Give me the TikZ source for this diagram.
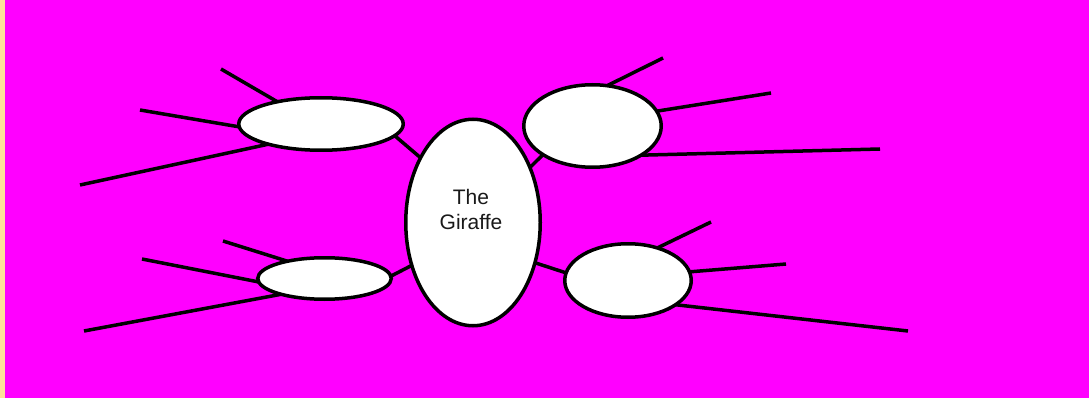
\documentclass[tikz,border=0pt]{standalone}
\usepackage{fontspec}
\setmainfont{Liberation Sans}
\definecolor{bgmagenta}{HTML}{FF00FF}
\definecolor{edgeyellow}{HTML}{FFE09A}
\usetikzlibrary{shapes.geometric}

\begin{document}
\begin{tikzpicture}[
  x=1pt, y=-1pt,
  blob/.style={ellipse, draw=black, line width=3.5pt, fill=white, inner sep=0pt, outer sep=0pt},
  leg/.style={line width=3.5pt, draw=black},
  gtext/.style={align=center, text=black!90, font=\fontsize{21}{25}\selectfont},
]
  % background
  \fill[bgmagenta] (0,0) rectangle (1089,398);
  \fill[edgeyellow] (0,0) rectangle (5,398);
  \useasboundingbox (0,0) rectangle (1089,398);
  % bubbles
  \node[blob, minimum width=134.5pt, minimum height=206.5pt] (gir) at (473,222.5) {};
  \node[gtext] (girtxt) at (471,209) {The\\Giraffe};
  \node[blob, minimum width=164.5pt, minimum height=52.5pt] (tl) at (321,124) {};
  \node[blob, minimum width=137.5pt, minimum height=82.5pt] (tr) at (592.5,126) {};
  \node[blob, minimum width=133.5pt, minimum height=41.5pt] (bl) at (324.5,278.5) {};
  \node[blob, minimum width=126.5pt, minimum height=73.5pt] (br) at (628,280.5) {};
  % bubble to giraffe
  \draw[leg] (tl.-9) -- (gir.129.5);
  \draw[leg] (tr.210.5) -- (gir.44.5);
  \draw[leg] (bl.2) -- (gir.215.8);
  \draw[leg] (br.173.4) -- (gir.-33.5);
  % free ends
  \coordinate (tl1) at (221,69);  \coordinate (tl2) at (140,110); \coordinate (tl3) at (80,185);
  \coordinate (tr1) at (663,58);  \coordinate (tr2) at (771,93);  \coordinate (tr3) at (880,149);
  \coordinate (bl1) at (223,241); \coordinate (bl2) at (142,259); \coordinate (bl3) at (84,331);
  \coordinate (br1) at (711,222); \coordinate (br2) at (786,264); \coordinate (br3) at (908,331);
  % legs
  \draw[leg] (tl1) -- (tl.153.4); \draw[leg] (tl2) -- (tl.182.8); \draw[leg] (tl3) -- (tl.201.4);
  \draw[leg] (tr1) -- (tr.70);    \draw[leg] (tr2) -- (tr.13.2);  \draw[leg] (tr3) -- (tr.-31);
  \draw[leg] (bl1) -- (bl.155);   \draw[leg] (bl2) -- (bl.183.8); \draw[leg] (bl3) -- (bl.200.6);
  \draw[leg] (br1) -- (br.48.8);  \draw[leg] (br2) -- (br.8.3);   \draw[leg] (br3) -- (br.-27.9);
\end{tikzpicture}
\end{document}
